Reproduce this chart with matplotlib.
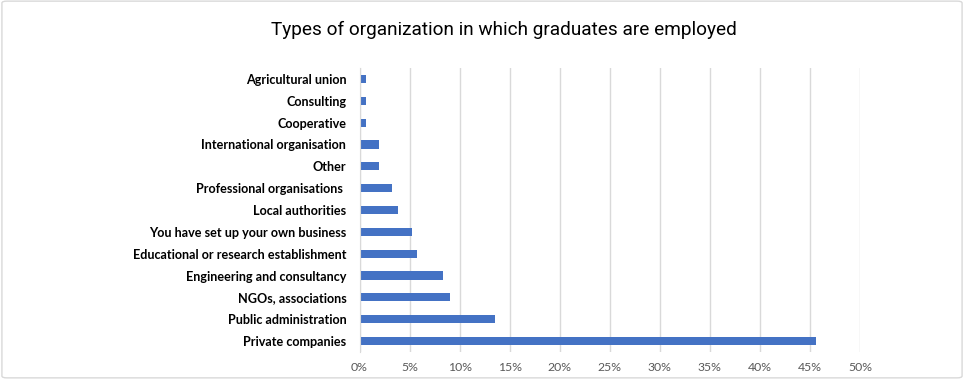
import matplotlib
matplotlib.use("Agg")
import matplotlib.pyplot as plt
from matplotlib.patches import FancyBboxPatch
from matplotlib.ticker import FuncFormatter, MultipleLocator

categories = [
    "Private companies",
    "Public administration",
    "NGOs, associations",
    "Engineering and consultancy",
    "Educational or research establishment",
    "You have set up your own business",
    "Local authorities",
    "Professional organisations ",
    "Other",
    "International organisation",
    "Cooperative",
    "Consulting",
    "Agricultural union",
]
values = [45.6, 13.5, 9.0, 8.3, 5.7, 5.2, 3.8, 3.2, 1.9, 1.9, 0.6, 0.6, 0.6]
title = "Types of organization in which graduates are employed"

fig = plt.figure(figsize=(9.64, 3.79), dpi=100)
ax = fig.add_axes([359.5 / 964, 27 / 379, (860 - 359.5) / 964, (352 - 68) / 379])

ax.barh(range(len(categories)), values, height=0.37, color="#4472C4", zorder=3)
ax.set_ylim(-0.5, len(categories) - 0.5)
ax.set_xlim(0, 50)
ax.xaxis.set_major_locator(MultipleLocator(5))
ax.xaxis.set_major_formatter(FuncFormatter(lambda v, p: f"{v:.0f}%"))
ax.set_yticks(range(len(categories)))
ax.set_yticklabels(categories, fontfamily="Lato", fontweight="bold", fontsize=9.1, color="#000000")
for lab in ax.get_xticklabels():
    lab.set_fontfamily("Lato")
    lab.set_fontsize(8.8)
    lab.set_color("#595959")
ax.tick_params(axis="both", length=0)
ax.tick_params(axis="x", pad=7.5)
ax.tick_params(axis="y", pad=9.5)
ax.grid(axis="x", color="#d9d9d9", linewidth=1, zorder=0)
for s in ["top", "right", "bottom"]:
    ax.spines[s].set_visible(False)
ax.spines["left"].set_color("#d9d9d9")
ax.spines["left"].set_zorder(4)

fig.text(504 / 964, 1 - 30 / 379, title, ha="center", va="center", fontsize=13.7,
         fontfamily="Roboto", color="#000000")

border = FancyBboxPatch((0.002, 0.003), 0.996, 0.994, boxstyle="round,pad=0,rounding_size=0.005",
                        transform=fig.transFigure, fill=False, edgecolor="#d9d9d9", linewidth=1)
fig.patches.append(border)

fig.savefig("out.png", dpi=100)
